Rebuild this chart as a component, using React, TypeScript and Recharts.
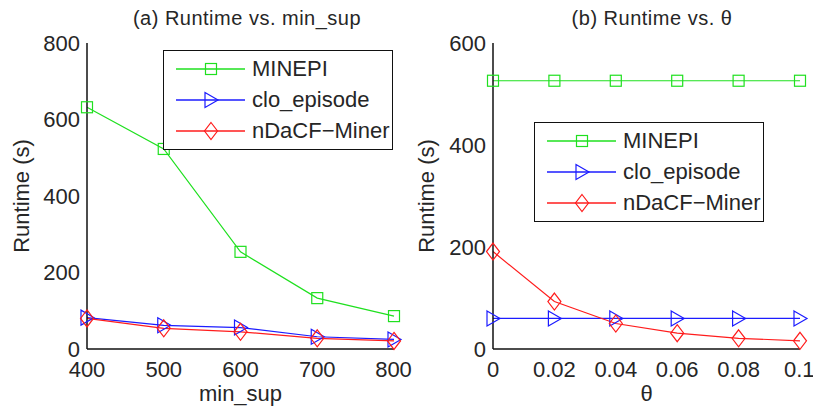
import React from "react";
import { LineChart, Line, XAxis, YAxis, Legend } from "recharts";

// (a) runtime vs. min_sup
const minSup = [400, 500, 600, 700, 800];
const minepiBySup = [632, 523, 254, 133, 86];
const cloBySup = [82, 62, 56, 32, 25];
const ndacfBySup = [80, 54, 45, 28, 21];

// (b) runtime vs. theta
const theta = [0, 0.02, 0.04, 0.06, 0.08, 0.1];
const minepiByTheta = [526, 526, 526, 526, 526, 526];
const cloByTheta = [60, 60, 60, 60, 60, 60];
const ndacfByTheta = [191, 93, 50, 31, 21, 16];

const supTicks = [400, 500, 600, 700, 800];
const runtimeTicksA = [0, 200, 400, 600, 800];
const thetaTicks = [0, 0.02, 0.04, 0.06, 0.08, 0.1];
const runtimeTicksB = [0, 200, 400, 600];

const GREEN = "#1fe01f";
const BLUE = "#1c1cff";
const RED = "#ff1c1c";
const INK = "#262626";
const FONT = "'Liberation Sans', Arial, sans-serif";

const dataA = minSup.map((x, i) => ({
  x,
  minepi: minepiBySup[i],
  clo: cloBySup[i],
  ndacf: ndacfBySup[i],
}));

const dataB = theta.map((x, i) => ({
  x,
  minepi: minepiByTheta[i],
  clo: cloByTheta[i],
  ndacf: ndacfByTheta[i],
}));

interface MarkerProps {
  cx: number;
  cy: number;
  color: string;
}

function Square({ cx, cy, color }: MarkerProps) {
  return (
    <rect
      x={cx - 5.5}
      y={cy - 5.5}
      width={11}
      height={11}
      fill="none"
      stroke={color}
      strokeWidth={1.2}
    />
  );
}

function Triangle({ cx, cy, color }: MarkerProps) {
  return (
    <path
      d={`M${cx - 6},${cy - 7.5}L${cx + 7},${cy}L${cx - 6},${cy + 7.5}Z`}
      fill="none"
      stroke={color}
      strokeWidth={1.2}
    />
  );
}

function Diamond({ cx, cy, color }: MarkerProps) {
  return (
    <path
      d={`M${cx},${cy - 8.5}L${cx + 6.5},${cy}L${cx},${cy + 8.5}L${cx - 6.5},${cy}Z`}
      fill="none"
      stroke={color}
      strokeWidth={1.2}
    />
  );
}

const series = [
  { key: "minepi", name: "MINEPI", color: GREEN, Marker: Square },
  { key: "clo", name: "clo_episode", color: BLUE, Marker: Triangle },
  { key: "ndacf", name: "nDaCF\u2212Miner", color: RED, Marker: Diamond },
];

const makeDot =
  (Marker: (p: MarkerProps) => React.ReactElement, color: string) =>
  (props: any) => {
    if (props.cx == null || props.cy == null) return <g key={`e-${props.index}`} />;
    return (
      <g key={`d-${props.index}`}>
        <Marker cx={props.cx} cy={props.cy} color={color} />
      </g>
    );
  };

function BoxLegend() {
  return (
    <div
      style={{
        position: "relative",
        width: 230,
        height: 100,
        boxSizing: "border-box",
        border: "1.5px solid #111",
        background: "#fff",
        fontFamily: FONT,
      }}
    >
      {series.map((s, i) => (
        <div
          key={s.key}
          style={{
            position: "absolute",
            left: 0,
            top: 3 + i * 31,
            height: 30,
            display: "flex",
            alignItems: "center",
            whiteSpace: "nowrap",
          }}
        >
          <svg width={88} height={30} style={{ display: "block" }}>
            <line x1={12} x2={81} y1={15} y2={15} stroke={s.color} strokeWidth={1.3} />
            <s.Marker cx={47} cy={15} color={s.color} />
          </svg>
          <span style={{ fontSize: 22, color: INK, lineHeight: "30px" }}>{s.name}</span>
        </div>
      ))}
    </div>
  );
}

interface PanelProps {
  data: Array<Record<string, number>>;
  xDomain: [number, number];
  xTicks: number[];
  yDomain: [number, number];
  yTicks: number[];
  width: number;
  yAxisWidth: number;
  marginRight: number;
  xLabel: string;
  yLabelX: number;
  legendLeft: number;
  legendTop: number;
}

function Panel({
  data,
  xDomain,
  xTicks,
  yDomain,
  yTicks,
  width,
  yAxisWidth,
  marginRight,
  xLabel,
  yLabelX,
  legendLeft,
  legendTop,
}: PanelProps) {
  const plotMidX = (yAxisWidth + width - marginRight) / 2;
  const plotMidY = (43 + 349) / 2;
  const boxTick = { stroke: "#111", strokeWidth: 1 };
  const boxLine = { stroke: "#111", strokeWidth: 1.5 };

  return (
    <LineChart
      width={width}
      height={410}
      data={data}
      margin={{ top: 43, right: marginRight, bottom: 0, left: 0 }}
    >
      <XAxis
        xAxisId="main"
        dataKey="x"
        type="number"
        domain={xDomain}
        ticks={xTicks}
        height={61}
        tickLine={false}
        tickSize={0}
        tickMargin={12}
        axisLine={boxLine}
        tick={{ fontSize: 22, fill: INK }}
        label={{
          content: () => (
            <text x={plotMidX} y={401} textAnchor="middle" fontSize={22} fill={INK}>
              {xLabel}
            </text>
          ),
        }}
      />
      <XAxis
        xAxisId="bottomTicks"
        dataKey="x"
        type="number"
        domain={xDomain}
        ticks={xTicks}
        orientation="bottom"
        mirror
        height={0}
        tick={false}
        tickSize={5}
        tickLine={boxTick}
        axisLine={false}
      />
      <XAxis
        xAxisId="top"
        dataKey="x"
        type="number"
        domain={xDomain}
        ticks={xTicks}
        orientation="top"
        mirror
        height={0}
        tick={false}
        tickSize={5}
        tickLine={boxTick}
        axisLine={boxLine}
      />
      <YAxis
        yAxisId="main"
        type="number"
        domain={yDomain}
        ticks={yTicks}
        width={yAxisWidth}
        tickLine={false}
        tickSize={0}
        tickMargin={7}
        axisLine={boxLine}
        tick={{ fontSize: 22, fill: INK }}
        label={{
          content: () => (
            <text
              x={yLabelX}
              y={plotMidY}
              transform={`rotate(-90 ${yLabelX} ${plotMidY})`}
              textAnchor="middle"
              fontSize={22}
              fill={INK}
            >
              Runtime (s)
            </text>
          ),
        }}
      />
      <YAxis
        yAxisId="leftTicks"
        type="number"
        domain={yDomain}
        ticks={yTicks}
        orientation="left"
        mirror
        width={0}
        tick={false}
        tickSize={5}
        tickLine={boxTick}
        axisLine={false}
      />
      <YAxis
        yAxisId="right"
        type="number"
        domain={yDomain}
        ticks={yTicks}
        orientation="right"
        mirror
        width={0}
        tick={false}
        tickSize={5}
        tickLine={boxTick}
        axisLine={boxLine}
      />
      <Legend
        layout="vertical"
        align="center"
        verticalAlign="middle"
        content={() => <BoxLegend />}
        wrapperStyle={{ left: legendLeft, top: legendTop, width: 230, height: 100 }}
      />
      {series.map((s) => (
        <Line
          key={s.key}
          xAxisId="main"
          yAxisId="main"
          dataKey={s.key}
          name={s.name}
          type="linear"
          stroke={s.color}
          strokeWidth={1.2}
          dot={makeDot(s.Marker, s.color)}
          activeDot={false}
          isAnimationActive={false}
        />
      ))}
    </LineChart>
  );
}

export default function App() {
  const titleStyle: React.CSSProperties = {
    position: "absolute",
    top: 8,
    width: 300,
    textAlign: "center",
    fontSize: 20,
    lineHeight: "20px",
    letterSpacing: 0.5,
    color: INK,
    whiteSpace: "nowrap",
  };

  return (
    <div
      style={{
        position: "absolute",
        left: 0,
        top: 0,
        width: 813,
        height: 410,
        background: "#fff",
        fontFamily: FONT,
      }}
    >
      <style>{`.recharts-surface { overflow: visible; }`}</style>
      <div style={{ ...titleStyle, left: 97 }}>(a) Runtime vs. min_sup</div>
      <div style={{ ...titleStyle, left: 502 }}>(b) Runtime vs. θ</div>
      <div style={{ position: "absolute", left: 0, top: 0 }}>
        <Panel
          data={dataA}
          xDomain={[400, 800]}
          xTicks={supTicks}
          yDomain={[0, 800]}
          yTicks={runtimeTicksA}
          width={410}
          yAxisWidth={87}
          marginRight={16}
          xLabel="min_sup"
          yLabelX={29}
          legendLeft={163}
          legendTop={50}
        />
      </div>
      <div style={{ position: "absolute", left: 410, top: 0 }}>
        <Panel
          data={dataB}
          xDomain={[0, 0.1]}
          xTicks={thetaTicks}
          yDomain={[0, 600]}
          yTicks={runtimeTicksB}
          width={403}
          yAxisWidth={83}
          marginRight={13}
          xLabel="θ"
          yLabelX={24}
          legendLeft={124}
          legendTop={122}
        />
      </div>
    </div>
  );
}
